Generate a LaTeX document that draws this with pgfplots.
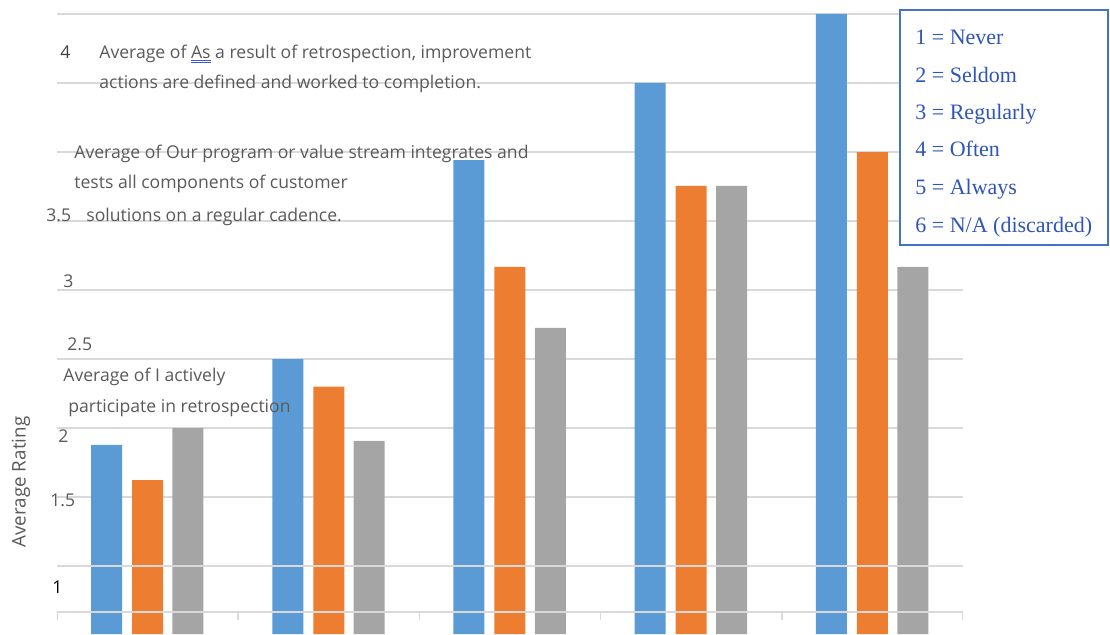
\documentclass[border=0pt]{standalone}
\usepackage{pgfplots}
\pgfplotsset{compat=1.18}
\usepackage{fontspec}
\setmainfont{Open Sans}
\newfontfamily\seriffont{Liberation Serif}
\definecolor{cblue}{HTML}{5B9BD5}
\definecolor{corange}{HTML}{ED7D31}
\definecolor{cgray}{HTML}{A5A5A5}
\definecolor{gridc}{HTML}{D9D9D9}
\definecolor{txt}{HTML}{595959}
\definecolor{txtd}{HTML}{404040}
\definecolor{legblue}{HTML}{4472C4}
\definecolor{legtxt}{HTML}{2F55B5}
\definecolor{spell}{HTML}{3B5BDB}
\newcommand\spellul[1]{\setbox0\hbox{#1}\rlap{\textcolor{spell}{\rule[-1.5pt]{\wd0}{0.45pt}}}\rlap{\textcolor{spell}{\rule[-2.5pt]{\wd0}{0.45pt}}}\box0\relax}
\begin{document}
\begin{tikzpicture}[x=0.5pt,y=0.5pt]
\path[use as bounding box] (0,0) rectangle (1110,634);
\begin{axis}[
  at={(28.5pt,0pt)}, anchor=south west,
  scale only axis, width=453pt, height=317pt,
  xmin=0, xmax=5, ymin=0.50725, ymax=5.10145,
  ybar, bar width=15.5pt,
  axis line style={draw=none},
  xtick=\empty, ytick={1,1.5,2,2.5,3,3.5,4,4.5,5}, yticklabels={},
  ytick style={draw=none},
  ymajorgrids, grid style={color=gridc, line width=0.75pt},
]
\addplot[fill=cblue, draw=none, bar shift=-20.5pt] coordinates {(0.5,1.877) (1.5,2.5) (2.5,3.942) (3.5,4.5) (4.5,5.0)};
\addplot[fill=corange, draw=none, bar shift=0pt] coordinates {(0.5,1.623) (1.5,2.30) (2.5,3.167) (3.5,3.754) (4.5,4.0)};
\addplot[fill=cgray, draw=none, bar shift=20.2pt] coordinates {(0.5,2.0) (1.5,1.906) (2.5,2.725) (3.5,3.754) (4.5,3.167)};
\draw[gridc, line width=0.75pt] (axis cs:0,1) -- (axis cs:5,1);
\draw[gridc, line width=0.9pt] (axis cs:0,0.6667) -- (axis cs:5,0.6667);
\pgfplotsinvokeforeach{0,1,2,3,4,5}{\draw[gridc, line width=0.75pt] (axis cs:#1,0.6667) -- (axis cs:#1,0.6087);}
\end{axis}
% y label
\node[rotate=90, txt, font=\fontsize{9.4}{10}\selectfont, inner sep=0] at (21,152) {Average Rating};
% overlay texts
\begin{scope}[every node/.style={anchor=base west, inner sep=0, font=\fontsize{8.8}{10}\selectfont, txt}]
\node[txtd] at (60,576) {4};
\node at (99,576) {Average of \spellul{As} a result of retrospection, improvement};
\node at (99,546) {actions are defined and worked to completion.};
\node at (74,476) {Average of Our program or value stream integrates and};
\node at (74,446) {tests all components of customer};
\node at (46,413) {3.5};
\node at (86,413) {solutions on a regular cadence.};
\node at (63,347) {3};
\node at (67,284) {2.5};
\node at (63,253) {Average of I actively};
\node at (68,222) {participate in retrospection};
\node at (58,192) {2};
\node at (50,128) {1.5};
\node[black] at (52,41) {1};
\end{scope}
% legend box
\draw[legblue, line width=0.7pt, fill=white] (900,389) rectangle (1108,624);
\begin{scope}[every node/.style={anchor=base west, inner sep=0, font=\seriffont\fontsize{11}{12}\selectfont, legtxt}]
\node at (915,590) {1 = Never};
\node at (915,552) {2 = Seldom};
\node at (915,515) {3 = Regularly};
\node at (915,478) {4 = Often};
\node at (915,440) {5 = Always};
\node at (915,402) {6 = N/A (discarded)};
\end{scope}
\end{tikzpicture}
\end{document}
